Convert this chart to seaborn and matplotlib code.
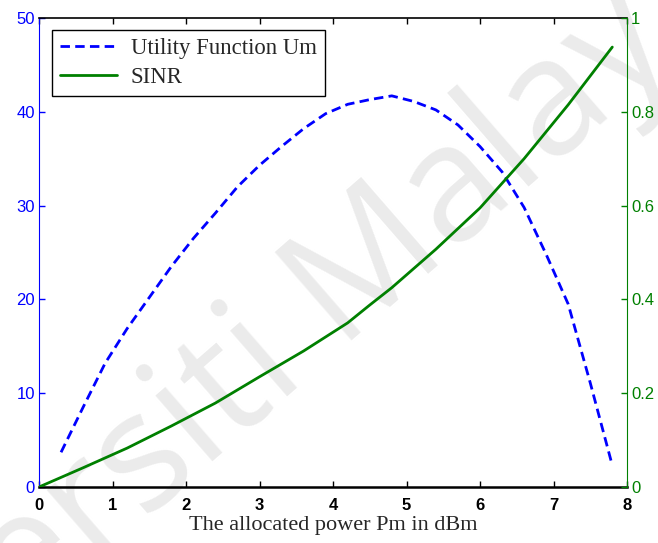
import numpy as np
import pandas as pd
import matplotlib
matplotlib.use("Agg")
import matplotlib.pyplot as plt
import seaborn as sns

# ---- data ----
power_um = [0.3, 0.6, 0.9, 1.2, 1.5, 1.8, 2.1, 2.4, 2.7, 3.0, 3.3, 3.6, 3.9,
            4.2, 4.5, 4.8, 5.1, 5.4, 5.7, 6.0, 6.3, 6.6, 6.9, 7.2, 7.5, 7.8]
utility_um = [3.7, 8.5, 13.2, 16.9, 20.2, 23.5, 26.5, 29.2, 32.0, 34.3, 36.3,
              38.2, 39.8, 40.8, 41.3, 41.7, 41.1, 40.2, 38.6, 36.3, 33.6, 29.8,
              24.8, 19.5, 11.1, 2.3]
power_sinr = [0.0, 0.6, 1.2, 1.8, 2.4, 3.0, 3.6, 4.2, 4.5, 4.8, 5.4, 6.0,
              6.6, 7.2, 7.8]
sinr = [0.0, 0.041, 0.083, 0.130, 0.179, 0.235, 0.290, 0.350, 0.388, 0.425,
        0.507, 0.595, 0.700, 0.815, 0.938]
x_ticks = [0, 1, 2, 3, 4, 5, 6, 7, 8]
left_ticks = [0, 10, 20, 30, 40, 50]
right_ticks = [0, 0.2, 0.4, 0.6, 0.8, 1]
right_tick_labels = ["0", "0.2", "0.4", "0.6", "0.8", "1"]

BLUE = "#0000ff"
GREEN = "#008000"

sns.set_style("white")
plt.rcParams["font.family"] = ["Liberation Sans", "DejaVu Sans"]

df_um = pd.DataFrame({"power": power_um, "value": utility_um})
df_sinr = pd.DataFrame({"power": power_sinr, "value": sinr})

fig = plt.figure(figsize=(6.58, 5.43), dpi=100)
ax = fig.add_axes([39 / 658, 1 - 487 / 543, 588 / 658, 469 / 543])
ax2 = ax.twinx()
ax.set_zorder(1)
ax2.set_zorder(2)
ax.patch.set_facecolor("none")
ax2.patch.set_facecolor("none")

# watermark
wm = fig.text(230 / 658, 1 - 390 / 543, "Universiti Malaya", rotation=41,
              fontsize=117, color="#ebebeb", ha="center", va="center",
              zorder=-5, family="Open Sans")
wm.set_clip_on(True)

sns.lineplot(data=df_um, x="power", y="value", ax=ax, color=BLUE,
             linestyle=(0, (3.4, 1.9)), linewidth=2.0, label="Utility Function Um",
             legend=False)
sns.lineplot(data=df_sinr, x="power", y="value", ax=ax2, color=GREEN,
             linewidth=2.0, label="SINR", legend=False)

ax.set_xlim(0, 8)
ax.set_ylim(0, 50)
ax2.set_ylim(0, 1)
ax.set_xticks(x_ticks)
ax.set_yticks(left_ticks)
ax2.set_yticks(right_ticks)
ax2.set_yticklabels(right_tick_labels)
ax.set_ylabel("")
ax2.set_ylabel("")
ax.set_xlabel("The allocated power Pm in dBm", family="Liberation Serif",
              fontsize=16, labelpad=2)

for t in ax.get_xticklabels():
    t.set_fontweight("bold")
ax.tick_params(axis="x", direction="in", length=4, width=1, colors="black",
               labelsize=12, top=True, bottom=True, pad=8)
ax.tick_params(axis="y", direction="in", length=4, width=1, colors=BLUE,
               labelsize=12, left=True, right=False, pad=3)
ax2.tick_params(axis="y", direction="in", length=4, width=1, colors=GREEN,
                labelsize=12, right=True, left=False, pad=3)

for a in (ax, ax2):
    for s in a.spines.values():
        s.set_visible(True)
ax.spines["left"].set_color(BLUE)
ax.spines["bottom"].set_color("black")
ax.spines["bottom"].set_linewidth(1.8)
ax.spines["top"].set_color("black")
ax.spines["top"].set_linewidth(1.2)
ax.spines["right"].set_visible(False)
ax2.spines["left"].set_visible(False)
ax2.spines["top"].set_visible(False)
ax2.spines["bottom"].set_visible(False)
ax2.spines["right"].set_color(GREEN)

h1, l1 = ax.get_legend_handles_labels()
h2, l2 = ax2.get_legend_handles_labels()
leg = ax2.legend(h1 + h2, l1 + l2, loc="upper left",
                 bbox_to_anchor=(13 / 588, 1 - 12 / 469),
                 prop={"family": "Liberation Serif", "size": 16.4},
                 frameon=True, fancybox=False, edgecolor="black",
                 framealpha=1, borderpad=0.35, handlelength=2.5,
                 handletextpad=0.6, labelspacing=0.35, borderaxespad=0)
leg.get_frame().set_linewidth(1.0)

fig.savefig("out.png", dpi=100)
